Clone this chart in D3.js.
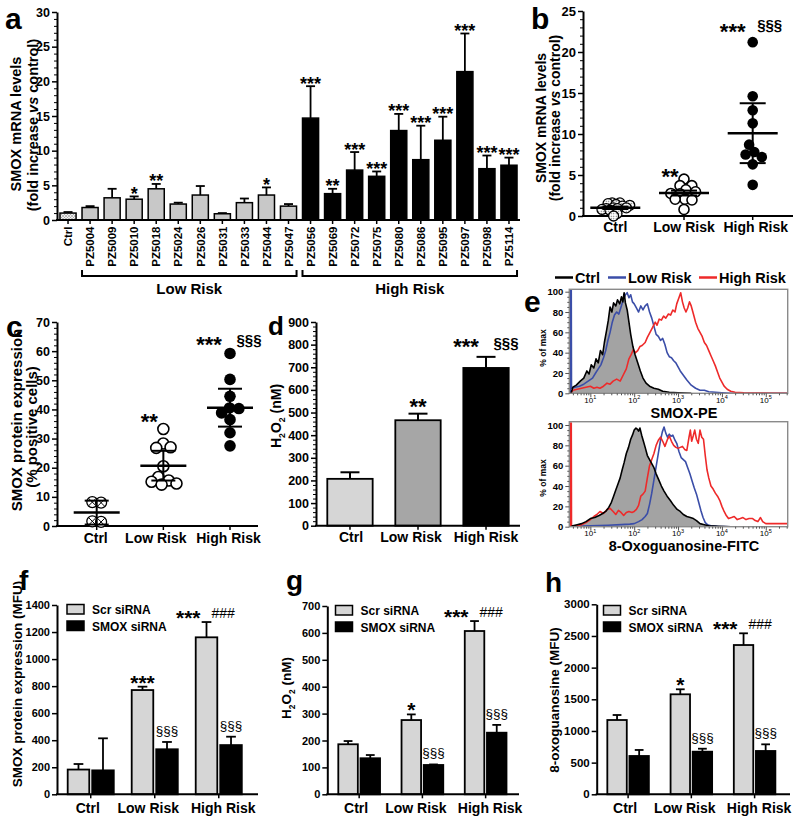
<!DOCTYPE html>
<html><head><meta charset="utf-8">
<script src="https://cdn.jsdelivr.net/npm/d3@7"></script>
<style>body{margin:0;background:#fff}</style>
</head><body>
<script>
// ================= DATA =================
// panel a
const aLowRisk = ["PZ5004","PZ5009","PZ5010","PZ5018","PZ5024","PZ5026","PZ5031","PZ5033","PZ5044","PZ5047"];
const aHighRisk = ["PZ5056","PZ5069","PZ5072","PZ5075","PZ5080","PZ5086","PZ5095","PZ5097","PZ5098","PZ5114"];
const aCategories = ["Ctrl", ...aLowRisk, ...aHighRisk];
const aMeans  = [1.0, 1.8,3.2,3.0,4.5,2.3,3.6,0.9,2.5,3.6,2.0, 14.7,3.8,7.2,6.3,12.9,8.7,11.5,21.4,7.4,7.9];
const aErrTop = [1.15,2.0,4.5,3.4,5.2,2.5,4.9,1.0,3.1,4.7,2.3, 19.3,4.5,9.8,7.0,15.3,13.6,14.9,26.9,9.3,9.0];
const aSig = ["","","","*","**","","","","","*","", "***","**","***","***","***","***","***","***","***","***"];
const aYTicks = [0,5,10,15,20,25,30];
const aGroupLabels = ["Low Risk","High Risk"];

// panel b
const bCategories = ["Ctrl","Low Risk","High Risk"];
const bCtrl = [1.6,1.6,1.5,1.4,1.3,1.2,1.0,1.0,0.9,0.9,0.8,0.7,0.3,0.0];
const bLow  = [4.5,3.7,3.7,3.2,2.95,2.75,2.7,2.05,2.05,1.95,0.8];
const bHigh = [21.2,14.6,12.9,11.3,8.7,7.8,7.5,7.2,6.3,3.8];
const bMean = [1.0,2.8,10.1];
const bErr  = [0.15,0.3,3.65];
const bSig  = ["","**","***"];
const bSig2 = ["","","§§§"];
const bYTicks = [0,5,10,15,20,25];

// panel c
const cCategories = ["Ctrl","Low Risk","High Risk"];
const cCtrl = [8.2,8.0,1.6,1.4];
const cLow  = [33.3,28.3,27.0,26.8,20.5,16.8,15.6,15.2,14.6,14.2];
const cHigh = [59.2,50.3,44.5,40.5,40.3,38.8,36.5,32.0,27.5];
const cMean = [4.6,20.7,40.6];
const cErr  = [4.1,5.1,6.5];
const cSig  = ["","**","***"];
const cSig2 = ["","","§§§"];
const cYTicks = [0,10,20,30,40,50,60,70];

// panel d
const dCategories = ["Ctrl","Low Risk","High Risk"];
const dValues = [207,466,697];
const dErrTop = [236,495,746];
const dSig  = ["","**","***"];
const dSig2 = ["","","§§§"];
const dYTicks = [0,100,200,300,400,500,600,700,800,900];

// panel e (x = log10 fluorescence, y = % of max)
const eSeries = ["Ctrl","Low Risk","High Risk"];
const eXTickExp = [1,2,3,4,5];
const eYTicks = [0,20,40,60,80,100];
const eTopCtrl = [[0.56,0],[0.6,6],[0.68,8],[0.77,12],[0.85,15],[0.92,22],[0.97,19],[1.02,28],[1.08,25],[1.13,34],[1.18,30],[1.23,42],[1.28,38],[1.32,50],[1.37,62],[1.41,72],[1.45,85],[1.49,80],[1.53,89],[1.58,86],[1.62,92],[1.67,88],[1.71,95],[1.74,90],[1.77,99],[1.8,89],[1.84,82],[1.88,70],[1.92,58],[1.97,46],[2.02,38],[2.08,30],[2.14,22],[2.2,15],[2.27,10],[2.35,7],[2.45,5],[2.55,4],[2.65,2],[2.8,1],[3.0,0.5],[3.3,0]];
const eTopLow = [[0.545,0],[0.55,102],[0.565,102],[0.57,5],[0.65,6],[0.75,7],[0.85,9],[0.95,12],[1.05,15],[1.12,20],[1.18,24],[1.24,28],[1.3,35],[1.35,42],[1.4,52],[1.45,60],[1.5,70],[1.55,77],[1.6,80],[1.65,78],[1.7,85],[1.75,92],[1.8,97],[1.84,99],[1.88,94],[1.92,97],[1.96,90],[2.0,88],[2.05,84],[2.1,80],[2.15,86],[2.2,82],[2.25,86],[2.3,88],[2.35,80],[2.4,74],[2.45,66],[2.5,58],[2.55,56],[2.6,52],[2.65,54],[2.7,48],[2.75,40],[2.8,36],[2.85,35],[2.9,32],[2.95,30],[3.0,26],[3.05,22],[3.1,19],[3.15,16],[3.2,13],[3.3,8],[3.4,5],[3.5,3],[3.6,3],[3.7,1.5],[3.85,1],[4.0,0.5],[4.2,0],[5.5,0]];
const eTopHigh = [[0.56,0],[0.6,3],[0.7,4],[0.8,5],[0.9,6],[1.0,7],[1.08,5],[1.15,6],[1.22,5],[1.3,7],[1.38,10],[1.45,9],[1.52,12],[1.6,14],[1.68,12],[1.75,18],[1.82,24],[1.88,34],[1.93,38],[1.98,43],[2.03,40],[2.08,42],[2.13,46],[2.18,47],[2.25,50],[2.3,55],[2.36,60],[2.42,65],[2.48,70],[2.52,67],[2.57,73],[2.62,72],[2.67,76],[2.72,74],[2.78,78],[2.83,77],[2.88,82],[2.93,80],[2.97,88],[3.02,94],[3.06,99],[3.1,90],[3.14,84],[3.18,80],[3.22,84],[3.26,90],[3.3,86],[3.35,78],[3.4,70],[3.45,64],[3.5,60],[3.55,56],[3.6,50],[3.65,47],[3.7,42],[3.75,37],[3.8,32],[3.85,27],[3.9,21],[3.95,15],[4.0,11],[4.05,7],[4.12,4],[4.2,2],[4.3,1],[4.5,0.5],[5.5,0]];
const eBotCtrl = [[0.56,0],[0.6,1],[0.7,2],[0.8,3],[0.9,5],[1.0,8],[1.1,9],[1.2,11],[1.28,13],[1.35,15],[1.42,19],[1.48,24],[1.53,30],[1.58,36],[1.63,42],[1.68,48],[1.72,55],[1.77,63],[1.82,72],[1.87,78],[1.92,86],[1.96,90],[2.0,95],[2.04,97],[2.07,96],[2.1,94],[2.13,97],[2.17,90],[2.21,84],[2.25,78],[2.3,70],[2.35,66],[2.4,62],[2.45,58],[2.5,52],[2.56,46],[2.62,40],[2.68,35],[2.75,30],[2.82,26],[2.9,21],[2.98,17],[3.05,15],[3.12,12],[3.2,10],[3.28,9],[3.35,8],[3.42,6],[3.5,3],[3.6,2],[3.7,1],[3.9,0.5],[4.2,0]];
const eBotLow = [[0.56,0],[0.6,0.5],[1.0,1],[1.4,1.5],[1.7,2],[1.9,2.5],[2.0,3],[2.1,5],[2.18,7],[2.25,10],[2.3,13],[2.35,22],[2.4,33],[2.45,46],[2.5,59],[2.55,72],[2.6,85],[2.64,93],[2.68,98],[2.72,92],[2.76,88],[2.8,91],[2.84,89],[2.88,90],[2.93,85],[2.97,82],[3.02,74],[3.07,68],[3.12,66],[3.17,64],[3.22,58],[3.27,52],[3.32,45],[3.37,38],[3.42,32],[3.47,24],[3.52,16],[3.57,9],[3.62,4],[3.67,2],[3.75,1],[3.9,0.5],[4.2,0],[5.5,0]];
const eBotHigh = [[0.545,0],[0.55,102],[0.565,102],[0.57,1],[0.7,1],[0.8,2],[0.9,4],[1.0,7],[1.08,10],[1.15,12],[1.22,15],[1.3,13],[1.38,17],[1.45,18],[1.52,15],[1.58,12],[1.64,16],[1.7,14],[1.76,11],[1.82,14],[1.88,15],[1.95,14],[2.0,15],[2.05,17],[2.1,21],[2.15,30],[2.2,32],[2.25,35],[2.3,48],[2.35,60],[2.4,66],[2.45,72],[2.5,80],[2.55,85],[2.6,88],[2.65,84],[2.7,79],[2.76,86],[2.8,89],[2.85,84],[2.9,80],[2.95,78],[3.0,77],[3.05,78],[3.1,79],[3.15,76],[3.2,75],[3.25,88],[3.28,95],[3.31,84],[3.35,90],[3.38,95],[3.42,86],[3.46,82],[3.5,95],[3.54,88],[3.58,86],[3.62,70],[3.66,56],[3.7,48],[3.75,40],[3.8,37],[3.85,33],[3.9,30],[3.95,26],[4.0,20],[4.05,15],[4.1,11],[4.15,8],[4.22,9],[4.28,10],[4.35,7],[4.42,8],[4.48,9],[4.55,7],[4.62,8],[4.7,8],[4.76,6],[4.82,5],[4.88,9],[4.93,5],[5.0,3],[5.1,3],[5.3,3],[5.5,3]];

// panels f, g, h
const ghCategories = ["Ctrl","Low Risk","High Risk"];
const ghSeries = ["Scr siRNA","SMOX siRNA"];
const fScr = [183,771,1161], fScrErr = [224,796,1274];
const fSmox = [177,333,364], fSmoxErr = [414,387,426];
const fYTicks = [0,200,400,600,800,1000,1200,1400];
const gScr = [186,276,607], gScrErr = [198,297,644];
const gSmox = [134,109,229], gSmoxErr = [146,111,258];
const gYTicks = [0,100,200,300,400,500,600,700];
const hScr = [1173,1579,2357], hScrErr = [1252,1658,2542];
const hSmox = [605,673,684], hSmoxErr = [700,720,789];
const hYTicks = [0,500,1000,1500,2000,2500,3000];
const fSigScr = ["","***","***"];
const gSigScr = ["","*","***"];
const hSigScr = ["","*","***"];
const fghSigHash = ["","","###"];
const fghSigSmox = ["","§§§","§§§"];

// ================= DRAWING =================
const FONT = '"Liberation Sans", Arial, Helvetica, sans-serif';
const svg = d3.select("body").append("svg").attr("width",800).attr("height",823);
svg.append("rect").attr("width",800).attr("height",823).attr("fill","#fff");
const defs = svg.append("defs");
const pat = defs.append("pattern").attr("id","hatch").attr("patternUnits","userSpaceOnUse").attr("width",3).attr("height",3);
pat.append("rect").attr("width",3).attr("height",3).attr("fill","#f0f0f0");
pat.append("path").attr("d","M0,0L3,3M3,0L0,3").attr("stroke","#9a9a9a").attr("stroke-width",0.6);
const pat2 = defs.append("pattern").attr("id","dots").attr("patternUnits","userSpaceOnUse").attr("width",2.5).attr("height",2.5);
pat2.append("rect").attr("width",2.5).attr("height",2.5).attr("fill","#fff");
pat2.append("circle").attr("cx",1.25).attr("cy",1.25).attr("r",0.6).attr("fill","#555");

function text(g, x, y, s, size, opt={}) {
  return g.append("text").attr("x",x).attr("y",y).attr("font-family",FONT)
    .attr("font-weight",opt.weight||"bold").attr("font-size",size)
    .attr("text-anchor",opt.anchor||"middle").attr("fill",opt.fill||"#000").text(s);
}
function rotLabel(g, x, y, parts, size) {
  const t = g.append("text").attr("transform",`translate(${x},${y}) rotate(-90)`)
    .attr("text-anchor","middle").attr("font-family",FONT).attr("font-weight","bold")
    .attr("font-size",size).attr("fill","#000");
  parts.forEach(p => {
    const ts = t.append("tspan").text(p.t);
    if (p.i) ts.attr("font-style","italic");
    if (p.sub) ts.attr("font-size",size*0.62).attr("dy",size*0.28);
    if (p.back) ts.attr("dy",-size*0.28);
  });
  return t;
}
function yAxis(g, scale, x, ticks, minor, size, w=2) {
  const ax = g.append("g").attr("transform",`translate(${x},0)`)
    .call(d3.axisLeft(scale).tickValues(ticks).tickSize(5).tickSizeOuter(0).tickPadding(2).tickFormat(d3.format("d")));
  ax.select(".domain").attr("stroke","#000").attr("stroke-width",w);
  ax.selectAll(".tick line").attr("stroke","#000").attr("stroke-width",1.5);
  ax.selectAll(".tick text").attr("font-size",size).attr("font-weight","bold").attr("font-family",FONT).attr("fill","#000");
  if (minor && minor.length) {
    const mg = g.append("g").attr("transform",`translate(${x},0)`)
      .call(d3.axisLeft(scale).tickValues(minor).tickSize(3).tickFormat(""));
    mg.select(".domain").remove();
    mg.selectAll(".tick line").attr("stroke","#000").attr("stroke-width",1);
  }
  return ax;
}
function xAxisLine(g, y, x0, x1) {
  g.append("line").attr("x1",x0).attr("x2",x1).attr("y1",y).attr("y2",y).attr("stroke","#000").attr("stroke-width",2);
}
function xTicks(g, scale, y, pos, labelBase, size, shifts) {
  const ax = g.append("g").attr("transform",`translate(0,${y})`)
    .call(d3.axisBottom(scale).tickSize(4).tickSizeOuter(0).tickFormat(""));
  ax.select(".domain").remove();
  ax.selectAll(".tick").attr("transform", d => `translate(${pos(d)},0)`);
  ax.selectAll(".tick line").attr("stroke","#000").attr("stroke-width",1.5);
  scale.domain().forEach((d,i) => text(g, pos(d) + (shifts ? shifts[i] : 0), labelBase, d, size));
}
function minorRange(a,b,step,major){ return d3.range(a,b+1e-9,step).filter(v=>!major.some(m=>Math.abs(m-v)<1e-9)); }
function swarm(values, cx, y, rc) {
  const nodes = values.map(v => ({v, x: cx, y: y(v), fy: y(v)}));
  const sim = d3.forceSimulation(nodes).force("x", d3.forceX(cx).strength(0.12))
    .force("c", d3.forceCollide(rc).iterations(3)).stop();
  for (let i=0;i<300;i++) sim.tick();
  return nodes;
}
function errBar(g, cx, y0, y1, cap, w=1.8) {
  g.append("line").attr("x1",cx).attr("x2",cx).attr("y1",y0).attr("y2",y1).attr("stroke","#000").attr("stroke-width",w);
  g.append("line").attr("x1",cx-cap/2).attr("x2",cx+cap/2).attr("y1",y1).attr("y2",y1).attr("stroke","#000").attr("stroke-width",w);
}
function panelLetter(g, x, y, s, size){ text(g,x,y,s,size,{anchor:"start"}); }

// ---------- panel a ----------
(function(){
  const g = svg.append("g");
  const x = d3.scaleBand().domain(aCategories).range([57,520]).paddingInner(0.27).paddingOuter(0.135);
  const y = d3.scaleLinear().domain([0,30]).range([220,12]);
  const bw = x.bandwidth();
  aCategories.forEach((c,i) => errBar(g, x(c)+bw/2, y(aMeans[i]), y(aErrTop[i]), 9));
  g.selectAll(".abar").data(aCategories).join("rect")
    .attr("x", d=>x(d)).attr("width",bw)
    .attr("y",(d,i)=>y(aMeans[i])).attr("height",(d,i)=>y(0)-y(aMeans[i]))
    .attr("fill",(d)=> d==="Ctrl" ? "url(#hatch)" : (aLowRisk.includes(d) ? "#c8c8c8" : "#000"))
    .attr("stroke","#000").attr("stroke-width",1.5);
  aCategories.forEach((c,i)=>{ if (aSig[i]) text(g, x(c)+bw/2, y(aErrTop[i])+3.5, aSig[i], 18); });
  yAxis(g, y, 57, aYTicks, minorRange(0,30,1,aYTicks), 12.5);
  xAxisLine(g, 220, 56, 520);
  const ax = g.append("g").attr("transform","translate(0,220)")
    .call(d3.axisBottom(x).tickSize(4).tickSizeOuter(0));
  ax.select(".domain").remove();
  ax.selectAll(".tick line").attr("stroke","#000").attr("stroke-width",1.5);
  ax.selectAll(".tick text").attr("font-family",FONT).attr("font-weight","bold").attr("font-size",11.5).attr("fill","#000")
    .attr("x",0).attr("y",0).attr("dy",null).attr("text-anchor","end").attr("transform","translate(4.2,6.5) rotate(-90)");
  [aLowRisk, aHighRisk].forEach((grp,k) => {
    const x0 = x(grp[0]), x1 = x(grp[grp.length-1]) + bw;
    g.append("path").attr("d",`M${x0},270V276H${x1}V270`).attr("fill","none").attr("stroke","#000").attr("stroke-width",2);
    text(g, (x0+x1)/2, 294, aGroupLabels[k], 15);
  });
  rotLabel(g, 21, 124, [{t:"SMOX mRNA levels"}], 14.5);
  rotLabel(g, 37.5, 125, [{t:"(fold increase "},{t:"vs",i:true},{t:" control)"}], 14.5);
  panelLetter(g, 5, 29, "a", 30);
})();

// ---------- scatter panel helper (b, c) ----------
function scatterPanel(o) {
  const g = svg.append("g");
  const x = d3.scalePoint().domain(o.cats).range(o.xr);
  const y = d3.scaleLinear().domain(o.ydom).range(o.yr);
  yAxis(g, y, o.ax, o.ticks, minorRange(o.ydom[0],o.ydom[1],o.minor,o.ticks), o.tickSize);
  xAxisLine(g, o.yr[0], o.ax-1, o.axEnd);
  xTicks(g, x, o.yr[0], d=>x(d), o.labelBase, 14, o.labShift);
  const sets = [o.ctrl, o.low, o.high];
  sets.forEach((vals,k) => {
    const cx = x(o.cats[k]);
    const nodes = swarm(vals, cx, y, o.r*o.pack[k]);
    nodes.forEach(n => {
      if (k===0) {
        g.append("circle").attr("cx",n.x).attr("cy",n.y).attr("r",o.r).attr("fill",o.ctrlFill).attr("stroke","#000").attr("stroke-width",1.3);
        if (o.ctrlCross) {
          const q = o.r*0.62;
          g.append("path").attr("d",`M${n.x-q},${n.y-q}L${n.x+q},${n.y+q}M${n.x+q},${n.y-q}L${n.x-q},${n.y+q}`).attr("stroke","#000").attr("stroke-width",1);
        }
      } else if (k===1) {
        g.append("circle").attr("cx",n.x).attr("cy",n.y).attr("r",o.r).attr("fill","#fff").attr("stroke","#000").attr("stroke-width",1.6);
      } else {
        g.append("circle").attr("cx",n.x).attr("cy",n.y).attr("r",o.r+0.3).attr("fill","#000");
      }
    });
    const m = o.mean[k], e = o.err[k];
    g.append("line").attr("x1",cx-o.mw).attr("x2",cx+o.mw).attr("y1",y(m)).attr("y2",y(m)).attr("stroke","#000").attr("stroke-width",2.5);
    g.append("line").attr("x1",cx).attr("x2",cx).attr("y1",y(m-e)).attr("y2",y(m+e)).attr("stroke","#000").attr("stroke-width",2);
    [m-e,m+e].forEach(v => g.append("line").attr("x1",cx-o.cw).attr("x2",cx+o.cw).attr("y1",y(v)).attr("y2",y(v)).attr("stroke","#000").attr("stroke-width",2));
    const top = y(d3.max(vals));
    if (o.sig[k]) {
      if (o.sig2[k]) {
        text(g, cx + o.starDx2, top + o.starDy2, o.sig[k], 22);
        text(g, cx + o.secDx, top + o.secDy, o.sig2[k], 15);
      } else text(g, cx + o.starDx, top + o.starDy, o.sig[k], 22);
    }
  });
  return g;
}

// ---------- panel b ----------
(function(){
  const g = scatterPanel({cats:bCategories, xr:[615.3,752.7], ydom:[0,25], yr:[216,11], ax:583, axEnd:793,
    ticks:bYTicks, minor:1, tickSize:13, labelBase:232, labShift:[0,0,3], ctrl:bCtrl, low:bLow, high:bHigh, mean:bMean, err:bErr,
    r:5, pack:[0.42,0.72,0.9], ctrlFill:"url(#dots)", ctrlCross:false, mw:25, cw:13, sig:bSig, sig2:bSig2,
    starDx:-14, starDy:4.5, starDx2:-20, starDy2:-3, secDx:17, secDy:-12});
  rotLabel(g, 546, 118, [{t:"SMOX mRNA levels"}], 14);
  rotLabel(g, 560, 118, [{t:"(fold increase "},{t:"vs",i:true},{t:" control)"}], 14);
  panelLetter(g, 531, 29, "b", 30);
})();

// ---------- panel c ----------
(function(){
  const g = scatterPanel({cats:cCategories, xr:[96.7,230], ydom:[0,70], yr:[526,322], ax:57, axEnd:258,
    ticks:cYTicks, minor:2, tickSize:12.5, labelBase:543, labShift:[-1,-7.5,-1.5], ctrl:cCtrl, low:cLow, high:cHigh, mean:cMean, err:cErr,
    r:5.5, pack:[0.8,0.75,0.85], ctrlFill:"#fff", ctrlCross:true, mw:23, cw:12, sig:cSig, sig2:cSig2,
    starDx:-14, starDy:0, starDx2:-21, starDy2:-1, secDx:19, secDy:-8});
  rotLabel(g, 21.5, 420, [{t:"SMOX protein expression"}], 15);
  rotLabel(g, 36.5, 427, [{t:"(% positive cells)"}], 15);
  panelLetter(g, 6, 337, "c", 30);
})();

// ---------- panel d ----------
(function(){
  const g = svg.append("g");
  const x = d3.scaleBand().domain(dCategories).range([316,520]).paddingInner(0.333).paddingOuter(0.166);
  const y = d3.scaleLinear().domain([0,900]).range([525.7,322]);
  const bw = x.bandwidth();
  const fills = ["#d6d6d6","#a6a6a6","#000"];
  dCategories.forEach((c,i)=> errBar(g, x(c)+bw/2, y(dValues[i]), y(dErrTop[i]), 19, 2));
  g.selectAll(".dbar").data(dCategories).join("rect")
    .attr("x",d=>x(d)).attr("width",bw).attr("y",(d,i)=>y(dValues[i])).attr("height",(d,i)=>y(0)-y(dValues[i]))
    .attr("fill",(d,i)=>fills[i]).attr("stroke","#000").attr("stroke-width",1.8);
  dCategories.forEach((c,i)=>{
    const cx = x(c)+bw/2, top = y(dErrTop[i]);
    if (dSig2[i]) { text(g, cx-20, top-2.5, dSig[i], 22); text(g, cx+20, top-9, dSig2[i], 15); }
    else if (dSig[i]) text(g, cx, top+0.5, dSig[i], 22);
  });
  yAxis(g, y, 316, dYTicks, minorRange(0,900,20,dYTicks), 12.5);
  xAxisLine(g, 525.7, 315, 520);
  xTicks(g, x, 525.7, d=>x(d)+bw/2, 542, 14, [1,-7,0]);
  rotLabel(g, 281, 416, [{t:"H"},{t:"2",sub:true},{t:"O",back:true},{t:"2",sub:true},{t:" (nM)",back:true}], 14);
  panelLetter(g, 268, 335, "d", 26);
})();

// ---------- panel e ----------
(function(){
  const g = svg.append("g");
  const x = d3.scaleLinear().domain([0.52,5.5]).range([569.3,787.7]);
  const colors = ["#000","#3b4ea8","#ee2a2a"];
  eSeries.forEach((s,i)=>{
    const lx = [555,608,699][i];
    g.append("line").attr("x1",lx).attr("x2",lx+18).attr("y1",277.5).attr("y2",277.5).attr("stroke",colors[i]).attr("stroke-width",2.5);
    text(g, lx+20, 283, s, 14.5, {anchor:"start"});
  });
  function hist(yTop, yZero, yHundred, series, title, titleY, ylabY, id) {
    const y = d3.scaleLinear().domain([0,100]).range([yZero,yHundred]);
    const clip = defs.append("clipPath").attr("id",id);
    clip.append("rect").attr("x",569.3).attr("y",yTop).attr("width",218.4).attr("height",yZero-yTop);
    const cg = g.append("g").attr("clip-path",`url(#${id})`);
    cg.append("path").datum(series[0]).attr("d", d3.area().x(d=>x(d[0])).y0(y(0)).y1(d=>y(d[1])))
      .attr("fill","#a3a3a3");
    const line = d3.line().x(d=>x(d[0])).y(d=>y(d[1]));
    [1,2,0].forEach(k => cg.append("path").datum(series[k]).attr("d",line).attr("fill","none")
      .attr("stroke",colors[k]).attr("stroke-width",1.6).attr("stroke-linejoin","round"));
    g.append("rect").attr("x",569.3).attr("y",yTop).attr("width",218.4).attr("height",yZero-yTop)
      .attr("fill","none").attr("stroke","#8a8a8a").attr("stroke-width",1.4);
    const ay = g.append("g").attr("transform","translate(569.3,0)")
      .call(d3.axisLeft(y).tickValues(eYTicks).tickSize(4).tickSizeOuter(0).tickPadding(2));
    ay.select(".domain").remove();
    ay.selectAll(".tick line").attr("stroke","#555").attr("stroke-width",1);
    ay.selectAll(".tick text").attr("font-family",FONT).attr("font-weight","bold").attr("font-size",9.5).attr("fill","#000");
    const my = g.append("g").attr("transform","translate(569.3,0)")
      .call(d3.axisLeft(y).tickValues(minorRange(0,100,5,eYTicks)).tickSize(2).tickFormat(""));
    my.select(".domain").remove(); my.selectAll(".tick line").attr("stroke","#555");
    const majors = eXTickExp;
    const minors = [];
    d3.range(0,6).forEach(e => d3.range(2,10).forEach(k => { const v = e+Math.log10(k); if (v>0.52 && v<5.5) minors.push(v); }));
    const ax = g.append("g").attr("transform",`translate(0,${yZero})`)
      .call(d3.axisBottom(x).tickValues(majors).tickSize(4).tickFormat(""));
    ax.select(".domain").remove(); ax.selectAll(".tick line").attr("stroke","#555");
    const mx = g.append("g").attr("transform",`translate(0,${yZero})`)
      .call(d3.axisBottom(x).tickValues(minors).tickSize(2).tickFormat(""));
    mx.select(".domain").remove(); mx.selectAll(".tick line").attr("stroke","#555");
    majors.forEach(e => {
      const t = text(g, x(e), yZero+9.5, "10", 8, {weight:"normal"});
      t.append("tspan").attr("font-size",5.5).attr("dy",-3.5).text(String(e));
    });
    text(g, 684, titleY, title, 14.5);
    rotLabel(g, 546, ylabY, [{t:"% of max"}], 8.5);
  }
  hist(289.3, 393.3, 291.7, [eTopCtrl,eTopLow,eTopHigh], "SMOX-PE", 417.5, 348, "clipTop");
  hist(421.7, 526.7, 425, [eBotCtrl,eBotLow,eBotHigh], "8-Oxoguanosine-FITC", 551, 478, "clipBot");
  panelLetter(g, 524, 312, "e", 30);
})();

// ---------- grouped bar panels f, g, h ----------
function groupPanel(o) {
  const g = svg.append("g");
  const x = d3.scaleBand().domain(ghCategories).range(o.xr).paddingInner(o.pi).paddingOuter(o.po);
  const xs = d3.scaleBand().domain(ghSeries).range([0,x.bandwidth()]).paddingInner(0.12);
  const y = d3.scaleLinear().domain(o.ydom).range([794.3,o.yTop]);
  const bw = xs.bandwidth();
  const vals = [o.scr, o.smox], errs = [o.scrErr, o.smoxErr];
  const fills = ["#d6d6d6","#000"];
  ghSeries.forEach((s,k) => ghCategories.forEach((c,i) => errBar(g, x(c)+xs(s)+bw/2, y(vals[k][i]), y(errs[k][i]), bw*0.45, 1.8)));
  ghSeries.forEach((s,k) => {
    g.selectAll(null).data(ghCategories).join("rect")
      .attr("x",c=>x(c)+xs(s)).attr("width",bw)
      .attr("y",(c,i)=>y(vals[k][i])).attr("height",(c,i)=>y(0)-y(vals[k][i]))
      .attr("fill",fills[k]).attr("stroke","#000").attr("stroke-width",1.8);
  });
  ghCategories.forEach((c,i) => {
    const scx = x(c)+xs("Scr siRNA")+bw/2, mcx = x(c)+xs("SMOX siRNA")+bw/2;
    const st = y(o.scrErr[i]);
    if (fghSigHash[i]) {
      text(g, scx-6, st+3, o.sigScr[i], 21, {anchor:"end"});
      text(g, scx+5, st-4, fghSigHash[i], 14, {anchor:"start", weight:"normal"});
    } else if (o.sigScr[i]) text(g, scx, st+3, o.sigScr[i], 21);
    if (fghSigSmox[i]) text(g, mcx, y(o.smoxErr[i])-7, fghSigSmox[i], 13.5, {weight:"normal"});
  });
  yAxis(g, y, o.xr[0], o.ticks, null, o.tickSize);
  xAxisLine(g, 794.3, o.xr[0]-1, o.axEnd);
  xTicks(g, x, 794.3, c=>x(c)+x.bandwidth()/2, 813, 14, [-3,-6.5,4.5]);
  ghSeries.forEach((s,k) => {
    g.append("rect").attr("x",o.lx).attr("y",o.ly+k*16.5).attr("width",17).attr("height",9.5)
      .attr("fill",fills[k]).attr("stroke","#000").attr("stroke-width",1.5);
    text(g, o.lx+25, o.ly+k*16.5+9.5, s, 12, {anchor:"start"});
  });
  return g;
}
(function(){
  const g = groupPanel({xr:[57,252.5], pi:0.28, po:0.167, ydom:[0,1400], yTop:605, ticks:fYTicks, tickSize:11,
    scr:fScr, scrErr:fScrErr, smox:fSmox, smoxErr:fSmoxErr, sigScr:fSigScr, axEnd:258, lx:67, ly:604.5});
  rotLabel(g, 22, 684, [{t:"SMOX protein expression (MFU)"}], 13.5);
  panelLetter(g, 19, 590, "f", 28);
})();
(function(){
  const g = groupPanel({xr:[327.3,517.5], pi:0.34, po:0.174, ydom:[0,700], yTop:606, ticks:gYTicks, tickSize:11,
    scr:gScr, scrErr:gScrErr, smox:gSmox, smoxErr:gSmoxErr, sigScr:gSigScr, axEnd:519, lx:335.5, ly:605.5});
  rotLabel(g, 291, 688, [{t:"H"},{t:"2",sub:true},{t:"O",back:true},{t:"2",sub:true},{t:" (nM)",back:true}], 13.5);
  panelLetter(g, 286, 590, "g", 28);
})();
(function(){
  const g = groupPanel({xr:[596.7,786], pi:0.343, po:0.168, ydom:[0,3000], yTop:604.3, ticks:hYTicks, tickSize:11.5,
    scr:hScr, scrErr:hScrErr, smox:hSmox, smoxErr:hSmoxErr, sigScr:hSigScr, axEnd:790, lx:603.5, ly:605.5});
  rotLabel(g, 558.5, 700, [{t:"8-oxoguanosine (MFU)"}], 13.5);
  panelLetter(g, 545, 592, "h", 28);
})();
</script>
</body></html>
